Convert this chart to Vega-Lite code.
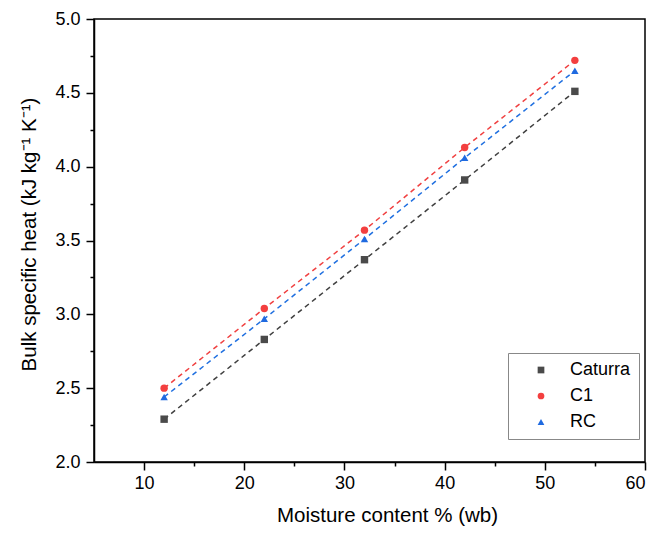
{
  "$schema": "https://vega.github.io/schema/vega-lite/v6.json",
  "width": 551,
  "height": 443,
  "autosize": {"type": "none"},
  "padding": {"left": 94, "top": 19, "right": 11, "bottom": 74},
  "background": "white",
  "config": {
    "font": "Liberation Sans",
    "view": {"stroke": "black", "strokeWidth": 1.5}
  },
  "data": {
    "values": [
      {"series": "Caturra", "x": 12, "y": 2.29},
      {"series": "Caturra", "x": 22, "y": 2.83},
      {"series": "Caturra", "x": 32, "y": 3.37},
      {"series": "Caturra", "x": 42, "y": 3.91},
      {"series": "Caturra", "x": 53, "y": 4.51},
      {"series": "C1", "x": 12, "y": 2.50},
      {"series": "C1", "x": 22, "y": 3.04},
      {"series": "C1", "x": 32, "y": 3.57},
      {"series": "C1", "x": 42, "y": 4.13},
      {"series": "C1", "x": 53, "y": 4.72},
      {"series": "RC", "x": 12, "y": 2.44},
      {"series": "RC", "x": 22, "y": 2.97},
      {"series": "RC", "x": 32, "y": 3.51},
      {"series": "RC", "x": 42, "y": 4.06},
      {"series": "RC", "x": 53, "y": 4.65}
    ]
  },
  "encoding": {
    "x": {"field": "x", "type": "quantitative", "scale": {"domain": [5, 60], "nice": false},
          "axis": {"gridOpacity": 0, "ticks": true, "tickOpacity": 1,
                   "values": [10, 15, 20, 25, 30, 35, 40, 45, 50, 55, 60],
                   "labelExpr": "datum.value % 10 === 0 ? datum.label : ''",
                   "tickSize": {"condition": {"test": "datum.value % 10 === 0", "value": 8}, "value": 4},
                   "tickColor": "black", "tickWidth": 1.5, "domainColor": "black", "domainWidth": 1.5,
                   "labelFont": "Liberation Sans", "labelFontSize": 18, "labelColor": "black", "labelPadding": 4,
                   "title": "Moisture content % (wb)", "titleFont": "Liberation Sans", "titleFontSize": 20.5,
                   "titleFontWeight": "normal", "titleColor": "black", "titlePadding": 13, "titleX": 293}},
    "y": {"field": "y", "type": "quantitative", "scale": {"domain": [2, 5], "nice": false, "zero": false},
          "axis": {"gridOpacity": 0, "ticks": true, "tickOpacity": 1,
                   "values": [2, 2.25, 2.5, 2.75, 3, 3.25, 3.5, 3.75, 4, 4.25, 4.5, 4.75, 5], "format": ".1f",
                   "labelExpr": "(datum.value * 2) % 1 === 0 ? datum.label : ''",
                   "tickSize": {"condition": {"test": "(datum.value * 2) % 1 === 0", "value": 8}, "value": 4},
                   "tickColor": "black", "tickWidth": 1.5, "domainColor": "black", "domainWidth": 1.5,
                   "labelFont": "Liberation Sans", "labelFontSize": 18, "labelColor": "black", "labelPadding": 6,
                   "title": "Bulk specific heat (kJ kg⁻¹ K⁻¹)", "titleFont": "Liberation Sans", "titleFontSize": 20.5,
                   "titleFontWeight": "normal", "titleColor": "black", "titlePadding": 15, "titleY": 215}}
  },
  "layer": [
    {
      "mark": {"type": "line", "strokeDash": [5, 4], "strokeWidth": 1.5},
      "encoding": {
        "stroke": {"field": "series", "type": "nominal",
                   "scale": {"domain": ["Caturra", "C1", "RC"], "range": ["#404040", "#f04040", "#2070e0"]},
                   "legend": null},
        "detail": {"field": "series"}
      }
    },
    {
      "mark": {"type": "point", "filled": true, "opacity": 1, "size": 55},
      "encoding": {
        "color": {"field": "series", "type": "nominal",
                  "scale": {"domain": ["Caturra", "C1", "RC"], "range": ["#4a4a4a", "#f33f3f", "#1f6ae0"]},
                  "legend": {"title": null, "orient": "none", "legendX": 414, "legendY": 334,
                             "strokeColor": "#888888", "padding": 8, "symbolOffset": 16, "labelOffset": 20,
                             "symbolSize": 45, "rowPadding": 8, "symbolStrokeWidth": 0,
                             "labelFont": "Liberation Sans", "labelFontSize": 18, "labelColor": "black"}},
        "shape": {"field": "series", "type": "nominal",
                  "scale": {"domain": ["Caturra", "C1", "RC"], "range": ["square", "circle", "triangle-up"]},
                  "legend": {"title": null, "orient": "none", "legendX": 414, "legendY": 334,
                             "strokeColor": "#888888", "padding": 8, "symbolOffset": 16, "labelOffset": 20,
                             "symbolSize": 45, "rowPadding": 8, "symbolStrokeWidth": 0,
                             "labelFont": "Liberation Sans", "labelFontSize": 18, "labelColor": "black"}}
      }
    }
  ],
  "resolve": {"scale": {"stroke": "independent"}}
}
